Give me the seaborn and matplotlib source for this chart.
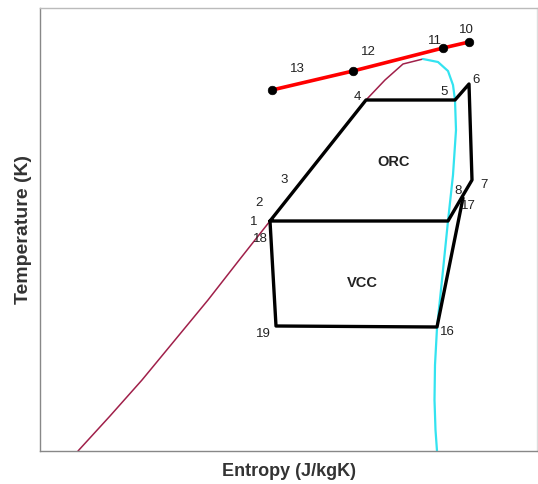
import matplotlib
matplotlib.use("Agg")
import matplotlib.pyplot as plt
import seaborn as sns

sns.set_style("white")
plt.rcParams['font.family'] = ['Liberation Sans', 'DejaVu Sans']

# Saturation dome (arbitrary entropy / temperature units)
liq_s = [38, 70, 102, 135, 168, 200, 230, 278, 326, 345, 363, 383]
liq_T = [0, 35, 71, 111, 151, 192, 230, 291, 351, 371, 387, 392]
vap_s = [383, 398, 408, 413, 415, 416, 413, 408, 402, 397, 395, 394.5, 395.5, 397]
vap_T = [392, 389, 380, 366, 351, 321, 276, 230, 171, 123, 86, 51, 21, 0]

# ORC cycle states
orc_names = ["1", "4", "5", "6", "7", "8", "c", "1"]
orc_s = [230, 326, 415, 429, 432, 422, 408, 230]
orc_T = [230, 351, 351, 367, 271, 254, 230, 230]

# VCC cycle states
vcc_names = ["18", "19", "16", "17"]
vcc_s = [230, 236, 397, 423]
vcc_T = [230, 125, 124, 253]

# Heat source line
hs_names = ["13", "12", "11", "10"]
hs_s = [232, 313, 403, 429]
hs_T = [361, 380, 403, 409]

# extra label-only states
extra_names = ["2", "3"]
extra_s = [232, 259]
extra_T = [234, 267]

fig = plt.figure(figsize=(5.38, 4.84), dpi=100)
ax = fig.add_axes([40/538, (484-451)/484, (537-40)/538, (451-8)/484])

sns.lineplot(x=liq_s, y=liq_T, sort=False, ax=ax, color="#A0204A", lw=1.1, estimator=None)
sns.lineplot(x=vap_s, y=vap_T, sort=False, ax=ax, color="#33E3F0", lw=1.6, estimator=None)
sns.lineplot(x=orc_s, y=orc_T, sort=False, ax=ax, color="black", lw=2.4, estimator=None)
sns.lineplot(x=vcc_s, y=vcc_T, sort=False, ax=ax, color="black", lw=2.4, estimator=None)
sns.lineplot(x=hs_s, y=hs_T, sort=False, ax=ax, color="#FF0000", lw=2.6, estimator=None)
sns.scatterplot(x=hs_s, y=hs_T, ax=ax, color="black", s=38, zorder=5, edgecolor="black")

offsets = {
    "1": (-16, -1), "18": (-10, -18), "2": (-13, 14), "3": (-15, 4),
    "4": (-9, 3), "5": (-11, 8), "6": (7, 4), "7": (12, -5), "8": (-4, 6),
    "17": (5, -8), "16": (10, -5), "19": (-13, -8),
    "13": (25, 21), "12": (15, 19), "11": (-8, 7), "10": (-3, 12),
}
pts = {}
for names, ss, tt in [(orc_names, orc_s, orc_T), (vcc_names, vcc_s, vcc_T),
                      (hs_names, hs_s, hs_T), (extra_names, extra_s, extra_T)]:
    for n, s_, t_ in zip(names, ss, tt):
        pts.setdefault(n, (s_, t_))
for n, (dx, dy) in offsets.items():
    ax.annotate(n, pts[n], xytext=(dx, dy), textcoords="offset pixels",
                ha="center", va="center", fontsize=9.5, color="#222222")

ax.text(354, 289, "ORC", ha="center", va="center", fontsize=10.5, fontweight="bold", color="#222222")
ax.text(322, 168, "VCC", ha="center", va="center", fontsize=10.5, fontweight="bold", color="#222222")

ax.set_xlim(0, 497)
ax.set_ylim(0, 443)
ax.set_xticks([])
ax.set_yticks([])
ax.set_xlabel("Entropy (J/kgK)", fontsize=13, fontweight="bold", color="#333333", labelpad=9)
ax.set_ylabel("Temperature (K)", fontsize=14, fontweight="bold", color="#333333", labelpad=6)
for sp in ax.spines.values():
    sp.set_color("#888888")
    sp.set_linewidth(1.0)
ax.spines["top"].set_color("#bbbbbb")
ax.spines["right"].set_color("#dddddd")

fig.savefig("out.png", dpi=100)
